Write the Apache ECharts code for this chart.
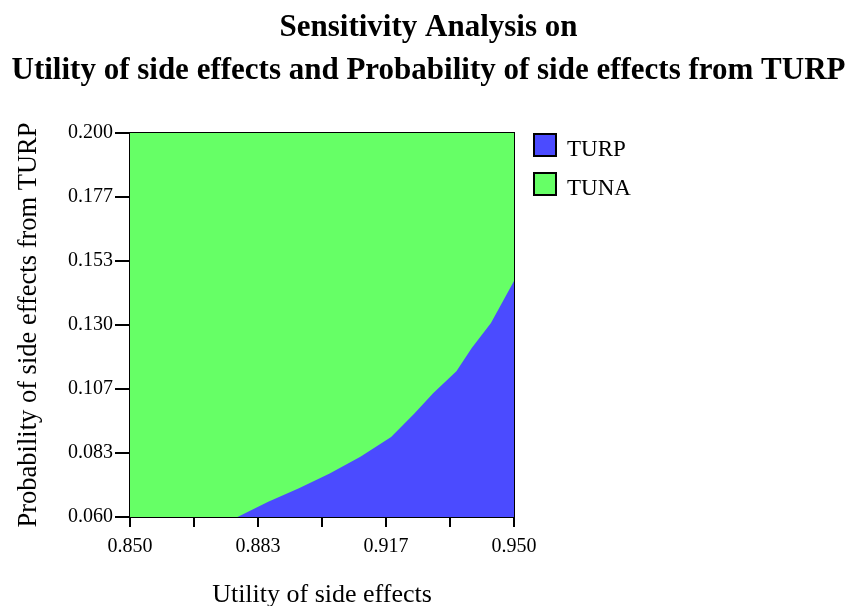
<!DOCTYPE html>
<html>
<head>
<meta charset="utf-8">
<script src="https://cdn.jsdelivr.net/npm/echarts@6/dist/echarts.min.js"></script>
<style>html,body{margin:0;padding:0;background:#fff;}#c{width:857px;height:606px;}</style>
</head>
<body>
<div id="c"></div>
<script>
// Boundary between TURP-preferred (below) and TUNA-preferred (above) regions
var turpUtility = [0.850, 0.878, 0.886, 0.894, 0.902, 0.910, 0.918, 0.924, 0.929, 0.935, 0.939, 0.944, 0.947, 0.950];
var turpProb    = [0.060, 0.060, 0.0656, 0.0705, 0.0759, 0.0820, 0.0892, 0.0976, 0.1052, 0.1131, 0.1216, 0.1307, 0.1384, 0.1460];
var tunaUtility = [0.850, 0.950];
var tunaProb    = [0.200, 0.200];
var xTickValues  = [0.85, 0.8666667, 0.8833333, 0.9, 0.9166667, 0.9333333, 0.95];
var xLabelValues = [0.85, 0.8833333, 0.9166667, 0.95];
var yTickValues  = [0.06, 0.0833333, 0.1066667, 0.13, 0.1533333, 0.1766667, 0.2];
var seriesNames = ['TURP', 'TUNA'];
var seriesColors = ['#4b4bff', '#66ff66'];

var FONT = 'Liberation Serif, Times New Roman, serif';
// square swatch in the top part of a taller legend cell (trailing moveTo keeps the cell height)
var LEGEND_ICON = 'path://M0,0H22V22H0ZM0,32';
function pairs(xs, ys) { return xs.map(function (x, i) { return [x, ys[i]]; }); }

var chart = echarts.init(document.getElementById('c'), null, {renderer: 'canvas'});
chart.setOption({
  animation: false,
  title: {
    text: 'Sensitivity Analysis on\nUtility of side effects and Probability of side effects from TURP',
    left: 'center', top: 1,
    textStyle: {fontFamily: FONT, fontWeight: 'bold', fontSize: 31, lineHeight: 43, color: '#000'}
  },
  legend: {
    orient: 'vertical', left: 533, top: 133, padding: 0,
    itemWidth: 22, itemHeight: 32, itemGap: 5, icon: LEGEND_ICON,
    textStyle: {fontFamily: FONT, fontSize: 23, color: '#000', padding: [0, 0, 0, 6]},
    data: seriesNames.map(function (n, i) {
      return {name: n, icon: LEGEND_ICON, itemStyle: {color: seriesColors[i], borderColor: '#000', borderWidth: 2}};
    })
  },
  grid: {left: 130, right: 343, top: 133, bottom: 89, outerBoundsMode: 'none', containLabel: false,
    show: true, borderColor: '#000', borderWidth: 2, backgroundColor: 'transparent'},
  xAxis: {
    type: 'value', min: 0.85, max: 0.95,
    name: 'Utility of side effects', nameLocation: 'middle', nameGap: 65,
    nameTextStyle: {fontFamily: FONT, fontSize: 26, color: '#000'},
    axisLine: {show: true, lineStyle: {color: '#000', width: 2}},
    axisTick: {show: true, length: 10, lineStyle: {color: '#000', width: 2}, customValues: xTickValues},
    axisLabel: {fontFamily: FONT, fontSize: 20, color: '#000', margin: 20, customValues: xLabelValues,
      formatter: function (v) { return v.toFixed(3); }},
    splitLine: {show: false}
  },
  yAxis: {
    type: 'value', min: 0.06, max: 0.2,
    name: 'Probability of side effects from TURP', nameLocation: 'middle', nameGap: 87,
    nameTextStyle: {fontFamily: FONT, fontSize: 26.5, color: '#000'},
    axisLine: {show: true, lineStyle: {color: '#000', width: 2}},
    axisTick: {show: true, length: 15, lineStyle: {color: '#000', width: 2}, customValues: yTickValues},
    axisLabel: {fontFamily: FONT, fontSize: 20, color: '#000', margin: 17, customValues: yTickValues,
      formatter: function (v) { return v.toFixed(3); }},
    splitLine: {show: false}
  },
  series: [
    {
      name: 'TUNA', type: 'line', data: pairs(tunaUtility, tunaProb), symbol: 'none', z: 1,
      color: seriesColors[1],
      lineStyle: {width: 0, color: seriesColors[1]},
      areaStyle: {color: seriesColors[1], opacity: 1, origin: 'start'}
    },
    {
      name: 'TURP', type: 'line', data: pairs(turpUtility, turpProb), symbol: 'none', z: 2,
      color: seriesColors[0],
      lineStyle: {width: 0, color: seriesColors[0]},
      areaStyle: {color: seriesColors[0], opacity: 1, origin: 'start'}
    }
  ]
});
</script>
</body>
</html>
